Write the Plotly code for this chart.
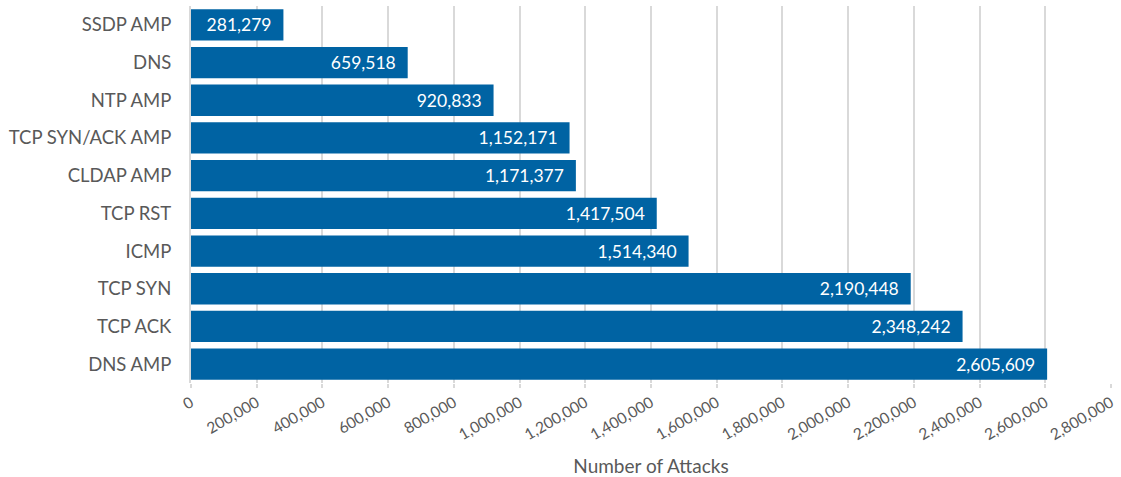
import plotly.graph_objects as go

categories = ["SSDP AMP", "DNS", "NTP AMP", "TCP SYN/ACK AMP", "CLDAP AMP",
              "TCP RST", "ICMP", "TCP SYN", "TCP ACK", "DNS AMP"]
attacks = [281279, 659518, 920833, 1152171, 1171377,
           1417504, 1514340, 2190448, 2348242, 2605609]
tick_values = list(range(0, 2800001, 200000))
tick_labels = ["0"] + [f"{v:,}" for v in tick_values[1:]]

FONT = "Lato, Open Sans, sans-serif"

fig = go.Figure(go.Bar(
    y=categories,
    x=attacks,
    orientation="h",
    marker=dict(color="#0063A3", line=dict(width=0)),
    text=[f"{v:,}\u00a0\u00a0" for v in attacks],
    textposition="inside",
    insidetextanchor="end",
    textfont=dict(color="white", size=17.5, family=FONT),
    constraintext="none",
    cliponaxis=False,
))

fig.update_layout(
    width=1121, height=477,
    margin=dict(l=191, r=10, t=6, b=94, autoexpand=False),
    paper_bgcolor="white",
    plot_bgcolor="white",
    bargap=0.17,
    showlegend=False,
    font=dict(family=FONT, color="#595959"),
)
fig.update_yaxes(
    autorange="reversed",
    tickfont=dict(size=18.5, color="#595959"),
    ticks="",
    ticklabelstandoff=14,
    showline=True, linecolor="#d9d9d9", linewidth=2,
    showgrid=False,
)
fig.update_xaxes(
    range=[0, 2800000],
    tickvals=tick_values,
    ticktext=tick_labels,
    tickangle=-30,
    tickfont=dict(size=15.5, color="#595959"),
    showgrid=True, gridcolor="#d9d9d9", gridwidth=2,
    ticks="outside", ticklen=4, tickcolor="#d9d9d9", tickwidth=2,
    zeroline=False,
    title=dict(text="Number of Attacks", font=dict(size=19, color="#595959"), standoff=18),
)

fig.write_html("out.html", config={"displayModeBar": False},
               post_script="document.body.style.margin='0';")
